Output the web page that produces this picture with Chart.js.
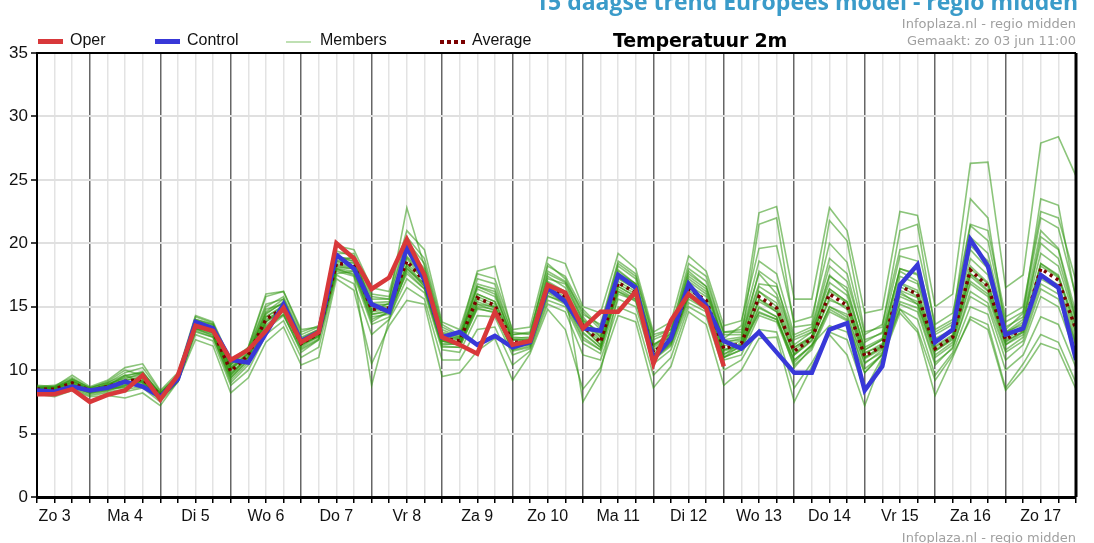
<!DOCTYPE html>
<html>
<head>
<meta charset="utf-8">
<script src="https://cdn.jsdelivr.net/npm/chart.js@4.4.0/dist/chart.umd.min.js"></script>
<style>
  body { margin: 0; background: #fff; font-family: "Liberation Sans", Arial, sans-serif; }
  #wrap { position: relative; width: 1094px; height: 543px; overflow: hidden; }
  #chart { position: absolute; left: 0; top: 0; }
  .txt { position: absolute; white-space: nowrap; }
  .head { right: 16px; top: -15px; font: bold 23px "Open Sans", sans-serif; color: #3a9bc9; }
  .info { right: 18px; font: 13px "DejaVu Sans", sans-serif; color: #a0a0a0; text-align: right; }
  .leg { font-size: 16px; color: #111; top: 31px; }
  .sw { position: absolute; height: 5px; top: 39px; width: 25px; }
  .title { left: 613px; top: 29px; font: bold 19px "DejaVu Sans", sans-serif; color: #000; letter-spacing: -0.2px; }
</style>
</head>
<body>
<div id="wrap">
  <canvas id="chart" width="1094" height="543"></canvas>
  <div class="txt head">15 daagse trend Europees model - regio midden</div>
  <div class="txt info" style="top:16px">Infoplaza.nl - regio midden</div>
  <div class="txt info" style="top:33px">Gemaakt: zo 03 jun 11:00</div>
  <div class="txt info" style="top:530px">Infoplaza.nl - regio midden</div>
  <div class="sw" style="left:38px;background:#d8383a"></div>
  <div class="txt leg" style="left:70px">Oper</div>
  <div class="sw" style="left:155px;background:#3838d8"></div>
  <div class="txt leg" style="left:187px">Control</div>
  <div class="sw" style="left:286px;height:2px;top:41px;background:#bfe0b3"></div>
  <div class="txt leg" style="left:320px">Members</div>
  <div class="sw" style="left:440px;height:4px;top:40px;background:repeating-linear-gradient(90deg,#7a0000 0 4px,transparent 4px 7px)"></div>
  <div class="txt leg" style="left:472px">Average</div>
  <div class="txt title">Temperatuur 2m</div>
</div>
<script>
// uren vanaf zo 3 jun 06:00, stap 6 uur
const hours = [0,6,12,18,24,30,36,42,48,54,
  60,66,72,78,84,90,96,102,108,114,
  120,126,132,138,144,150,156,162,168,174,
  180,186,192,198,204,210,216,222,228,234,
  240,246,252,258,264,270,276,282,288,294,
  300,306,312,318,324,330,336,342,348,354];

const dayLabels = ["Zo 3","Ma 4","Di 5","Wo 6","Do 7","Vr 8","Za 9","Zo 10",
  "Ma 11","Di 12","Wo 13","Do 14","Vr 15","Za 16","Zo 17"];

const oper = [8.1,8.1,8.5,7.5,8.05,8.4,9.6,7.7,9.6,13.5,
  13.1,10.8,11.6,13.1,14.9,12.2,13.0,20.0,18.8,16.4,
  17.3,20.3,17.5,12.6,12.0,11.3,14.6,12.0,12.3,16.7,
  16.1,13.3,14.6,14.6,16.2,10.5,13.9,16.0,14.9,10.3];

const control = [8.4,8.3,8.7,8.4,8.6,9.1,8.7,7.9,9.3,13.8,
  13.3,10.8,10.6,12.9,15.2,12.3,13.0,19.1,18.0,15.2,
  14.6,19.7,17.1,12.6,13.0,12.0,12.7,11.8,12.2,16.5,
  15.4,13.3,13.1,17.5,16.5,10.9,12.5,16.8,15.1,12.3,
  11.7,13.0,11.4,9.8,9.8,13.2,13.7,8.4,10.3,16.7,
  18.3,12.2,13.2,20.3,18.2,12.8,13.3,17.5,16.5,10.8];

const average = [8.5,8.5,9.0,8.4,8.7,9.1,9.3,8.0,9.3,13.5,
  13.1,9.9,11.2,14.0,14.9,12.1,12.9,18.4,18.3,14.8,
  14.9,18.6,17.0,12.5,12.3,15.7,15.1,12.2,12.2,16.6,
  15.8,13.5,12.2,16.9,16.1,11.4,12.5,16.4,15.5,11.7,
  12.1,15.8,14.9,11.5,12.5,16.0,15.1,11.1,11.9,16.6,
  16.0,11.7,12.6,17.9,16.6,12.4,13.3,18.0,17.1,13.2];

const member01 = [8.6,8.6,9.2,8.5,8.9,9.4,9.6,8.2,9.5,13.8,
  13.4,10.2,11.5,14.5,15.3,12.4,13.1,18.9,18.8,15.3,
  15.4,19.5,17.8,13.0,12.6,16.4,15.8,12.6,12.5,17.4,
  16.5,14.0,12.8,17.6,16.8,11.9,12.9,17.2,16.2,12.2,
  12.5,16.6,15.7,12.0,13.0,16.9,15.9,11.6,12.4,17.4,
  16.8,12.2,13.1,18.8,17.5,12.9,13.8,19.2,18.2,13.8];
const member02 = [8.3,8.2,8.6,8.1,8.3,8.5,8.7,7.7,9.2,13.0,
  12.6,9.2,10.6,13.2,14.3,11.6,12.4,17.8,17.4,13.6,
  14.2,17.2,16.1,11.6,11.4,14.3,14.2,11.2,11.7,15.5,
  15.0,12.1,11.3,15.6,15.0,10.5,11.6,15.3,14.6,10.8,
  11.2,14.3,13.8,10.4,11.6,14.6,13.9,10.1,11.2,15.4,
  14.9,10.6,11.7,16.2,15.3,11.4,12.3,16.4,15.6,11.9];
const member03 = [8.8,8.7,9.6,8.7,9.2,10.2,10.5,8.4,9.8,14.3,
  13.8,10.8,11.8,15.8,16.2,13.0,13.5,19.8,19.5,16.5,
  16.2,21.0,19.5,13.8,13.2,17.6,17.2,13.2,13.4,18.9,
  18.4,15.0,14.5,19.2,18.0,13.0,13.8,19.0,17.8,13.5,
  13.9,19.6,19.8,13.8,14.2,20.0,18.5,12.8,13.6,19.5,
  19.8,13.6,14.5,21.5,21.0,14.2,15.0,22.5,22.0,17.0];
const member04 = [8.1,7.9,8.4,7.9,8.0,7.8,8.2,7.2,9.1,12.4,
  11.9,8.2,9.4,12.2,13.4,10.4,11.0,17.2,16.3,10.5,
  13.5,15.5,15.2,9.5,9.8,11.5,12.5,9.2,11.3,14.8,
  13.2,8.5,10.2,14.3,13.8,8.6,10.3,14.6,13.6,8.8,
  10.0,12.5,12.6,7.5,10.3,12.8,11.2,7.2,10.9,14.5,
  13.0,8.0,11.0,14.2,13.6,8.6,10.5,12.8,12.2,9.0];
const member05 = [8.4,8.5,9.0,8.3,8.6,9.0,9.3,8.0,9.3,13.6,
  13.0,9.6,11.0,14.2,15.0,12.0,12.8,18.0,17.5,8.8,
  14.0,18.0,16.8,12.3,12.0,15.2,15.0,12.0,12.3,16.8,
  16.2,7.5,9.9,16.0,15.5,11.0,12.2,16.0,15.0,11.0,
  12.0,15.6,14.6,11.2,12.4,15.5,15.0,11.0,11.8,16.2,
  15.2,11.5,12.5,17.4,16.2,12.0,13.0,17.6,16.5,12.5];
const member06 = [8.5,8.6,9.1,8.5,8.8,9.5,9.9,8.1,9.4,13.7,
  13.2,10.0,11.4,14.8,15.2,12.3,13.0,18.6,18.4,15.0,
  15.2,19.0,17.5,12.7,12.4,16.0,15.4,12.4,12.4,17.0,
  16.2,13.8,12.6,17.3,16.4,11.8,12.7,17.0,16.0,12.5,
  13.5,22.4,22.9,15.6,15.6,22.8,21.0,14.5,14.8,22.5,
  22.2,15.0,16.0,26.3,26.4,16.5,17.5,27.9,28.4,25.3];
const member07 = [8.6,8.5,8.9,8.4,8.8,9.6,9.0,7.9,9.6,13.2,
  13.3,10.4,11.6,13.6,14.6,12.1,12.6,18.2,18.0,14.4,
  14.6,18.4,17.2,12.3,12.0,15.8,15.2,12.0,12.0,16.4,
  15.6,13.4,12.0,16.8,16.0,11.2,12.4,16.3,15.4,11.6,
  12.0,15.6,14.8,11.3,12.6,16.2,15.3,11.0,11.9,16.8,
  16.1,11.8,12.7,18.0,16.8,12.4,13.3,18.2,17.3,13.4];
const member08 = [8.5,8.4,8.8,8.3,8.5,8.9,9.1,8.0,9.2,13.4,
  12.9,9.8,11.0,14.0,14.8,12.0,12.9,18.4,18.2,14.8,
  14.9,18.8,17.0,12.5,12.2,15.6,15.0,12.1,12.2,16.5,
  15.8,13.3,12.3,17.0,16.2,11.4,12.5,16.6,15.4,11.6,
  12.0,14.5,14.0,10.6,12.0,13.5,13.0,9.8,11.3,14.8,
  13.2,9.2,11.2,14.0,13.2,8.4,10.0,12.1,11.6,8.5];
const member09 = [8.7,8.8,9.4,8.6,9.0,9.8,10.2,8.3,9.6,14.0,
  13.6,10.4,11.8,16.0,16.2,13.2,13.4,19.2,19.2,16.0,
  15.8,20.5,18.8,13.6,12.8,17.8,18.2,13.0,12.8,18.4,
  17.2,14.4,13.6,18.6,17.6,12.8,13.2,18.0,17.0,13.0,
  13.0,17.6,16.0,12.4,13.0,17.5,16.2,11.8,12.5,18.0,
  17.5,12.5,13.2,19.5,18.0,13.0,14.0,20.0,18.8,14.0];
const member10 = [8.4,8.3,8.7,8.2,8.4,8.8,9.0,7.8,9.1,13.2,
  12.8,9.4,10.8,13.5,14.4,11.4,12.4,17.6,17.8,14.2,
  14.4,17.8,16.4,11.8,11.8,14.8,14.6,11.5,11.8,15.8,
  15.4,12.6,11.6,16.2,15.6,11.0,12.2,16.0,15.2,11.3,
  11.8,15.0,14.2,10.8,12.0,15.0,14.2,10.5,11.6,16.0,
  15.4,11.2,12.2,17.0,16.0,12.0,12.8,17.2,16.4,12.0];
const member11 = [8.6,8.7,9.3,8.6,9.1,10.0,9.6,8.2,9.5,14.2,
  13.7,10.6,11.7,15.2,15.6,12.6,13.2,19.0,18.6,15.6,
  15.6,22.8,18.2,13.2,12.6,16.8,16.4,12.8,13.0,17.8,
  17.0,14.6,13.2,18.2,17.2,12.4,13.0,17.6,16.6,12.8,
  12.8,16.8,16.6,12.6,13.2,18.2,17.0,12.4,12.9,17.8,
  17.0,12.8,13.6,20.5,19.2,13.4,14.2,21.0,19.6,14.5];
const member12 = [8.3,8.3,8.8,8.2,8.6,8.6,9.2,7.7,9.2,13.3,
  12.7,9.0,10.4,13.8,14.8,11.8,12.7,18.0,17.8,13.8,
  14.6,18.2,16.6,12.0,12.1,15.0,14.8,11.6,12.2,16.2,
  15.5,13.0,11.8,16.6,15.8,10.8,12.1,15.8,14.8,11.2,
  12.2,16.2,15.0,11.6,12.6,16.4,15.4,11.4,11.9,16.6,
  15.8,11.6,12.6,17.6,16.6,12.3,13.0,18.4,17.4,13.0];
const member13 = [8.5,8.7,9.2,8.4,8.9,9.3,9.8,8.1,9.5,13.9,
  13.5,10.2,11.3,14.4,15.4,12.5,13.2,18.6,18.9,15.2,
  15.2,19.6,18.0,12.9,12.5,16.6,16.0,12.5,12.6,17.2,
  16.8,13.9,13.0,17.8,16.8,12.0,12.9,17.4,16.4,12.4,
  12.6,21.5,22.0,13.4,13.6,21.8,20.2,13.0,13.4,21.0,
  21.5,13.2,14.0,23.5,22.0,13.2,14.5,23.5,23.0,15.5];
const member14 = [8.2,8.1,8.5,8.0,8.2,8.3,8.6,7.5,9.1,12.8,
  12.3,8.8,10.0,12.8,13.9,11.0,11.8,17.5,16.8,12.8,
  14.0,16.5,15.6,10.8,10.8,13.2,13.4,10.4,11.5,15.2,
  14.6,11.2,10.8,15.0,14.4,9.6,11.0,15.0,14.2,10.0,
  10.8,13.2,13.0,8.6,10.6,13.0,12.4,8.4,11.0,14.8,
  14.0,9.6,11.4,15.0,14.4,10.0,11.2,14.2,13.6,10.2];
const member15 = [8.6,8.5,9.1,8.5,8.8,9.2,9.5,8.1,9.4,13.6,
  13.2,10.1,11.3,14.2,15.1,12.3,13.0,18.5,18.5,15.0,
  15.0,18.9,17.3,12.7,12.5,16.0,15.4,12.4,12.3,16.9,
  16.0,13.7,12.4,17.2,16.4,11.6,12.7,16.7,15.8,11.9,
  12.3,16.2,15.3,11.8,12.7,16.4,15.4,11.3,12.1,16.9,
  16.3,11.9,12.8,18.2,16.9,12.6,13.5,18.4,17.5,13.5];
const member16 = [8.4,8.4,8.9,8.3,8.6,9.0,9.1,7.9,9.2,13.4,
  13.0,9.7,11.1,13.8,14.7,11.9,12.8,18.3,18.1,14.6,
  14.8,18.3,16.8,12.3,12.1,15.4,14.9,12.0,12.1,16.3,
  15.6,13.3,12.0,16.6,15.8,11.2,12.3,16.1,15.2,11.5,
  11.9,15.4,14.6,11.2,12.3,15.7,14.8,10.9,11.7,16.3,
  15.7,11.5,12.4,17.6,16.3,12.2,13.1,17.6,16.7,12.9];
const member17 = [8.5,8.6,9.0,8.4,8.7,9.2,9.4,8.0,9.4,13.5,
  13.1,10.0,11.2,14.6,15.6,12.4,13.1,18.8,18.6,14.6,
  15.3,19.3,17.6,12.5,12.4,16.6,16.2,12.4,12.4,17.6,
  16.9,14.2,12.6,17.9,16.8,12.0,12.8,17.8,16.6,12.2,
  12.4,17.8,16.8,11.8,12.6,17.4,16.5,11.6,12.4,18.0,
  17.6,12.4,13.0,19.8,18.6,13.0,13.6,20.5,19.5,14.0];
const member18 = [8.3,8.2,8.7,8.2,8.4,8.7,8.9,7.8,9.1,13.1,
  12.6,9.4,10.8,13.4,14.4,11.7,12.5,17.9,17.6,14.0,
  14.6,17.6,16.4,11.9,11.8,14.9,14.5,11.6,11.9,15.9,
  15.2,12.4,11.6,16.2,15.4,10.8,11.9,15.6,14.8,11.0,
  11.6,14.6,14.0,10.8,11.9,15.0,14.4,10.6,11.4,15.8,
  15.2,11.0,12.0,16.8,15.8,11.6,12.6,16.8,16.0,12.2];
const member19 = [8.7,8.6,9.3,8.6,9.0,9.6,9.8,8.2,9.6,14.0,
  13.6,10.5,11.6,15.0,15.8,12.8,13.4,19.4,19.0,15.8,
  15.6,20.2,18.4,13.4,12.7,17.2,16.8,12.8,12.9,18.2,
  17.4,14.8,13.4,18.4,17.4,12.6,13.2,18.4,17.4,13.0,
  13.2,18.6,17.6,12.8,13.4,18.8,17.6,12.2,13.0,19.0,
  18.6,13.0,13.8,21.4,20.2,13.8,14.6,22.0,21.2,15.8];
const member20 = [8.4,8.4,8.8,8.3,8.5,8.8,9.2,7.9,9.3,13.3,
  12.9,9.6,11.0,13.9,14.9,12.0,12.7,18.1,18.0,14.4,
  14.7,18.0,16.6,12.1,12.0,15.2,14.7,11.8,12.0,16.1,
  15.3,12.9,11.8,16.4,15.6,11.0,12.0,15.8,15.0,11.0,
  11.6,14.9,14.2,10.2,11.8,14.8,14.0,9.8,11.2,15.2,
  14.6,10.4,11.8,15.8,15.0,10.8,12.0,15.8,15.0,11.2];

const members = [member01, member02, member03, member04, member05, member06, member07,
  member08, member09, member10, member11, member12, member13, member14, member15,
  member16, member17, member18, member19, member20];

function toPoints(values) {
  return values.map((v, i) => ({ x: hours[i], y: v }));
}

const datasets = [
  { label: "Oper", data: toPoints(oper), borderColor: "#d8383a", borderWidth: 4.5 },
  { label: "Control", data: toPoints(control), borderColor: "#3838d8", borderWidth: 4.5 },
  { label: "Average", data: toPoints(average), borderColor: "#7a0000", borderWidth: 3.5, borderDash: [3, 4] }
];
members.forEach((m, i) => {
  datasets.push({ label: "Member " + (i + 1), data: toPoints(m), borderColor: "rgba(45,150,15,0.55)", borderWidth: 1.6 });
});

// rand boven en rechts
const frame = {
  id: "frame",
  afterDraw(chart) {
    const { ctx, chartArea: a } = chart;
    ctx.save();
    ctx.strokeStyle = "#000";
    ctx.lineWidth = 2;
    ctx.beginPath();
    ctx.moveTo(a.left, a.top);
    ctx.lineTo(a.right, a.top);
    ctx.stroke();
    ctx.lineWidth = 3;
    ctx.beginPath();
    ctx.moveTo(a.right, a.top);
    ctx.lineTo(a.right, a.bottom);
    ctx.stroke();
    ctx.restore();
  }
};

new Chart(document.getElementById("chart"), {
  type: "line",
  data: { datasets },
  plugins: [frame],
  options: {
    responsive: false,
    animation: false,
    layout: { padding: { top: 53, right: 18, left: 0, bottom: 0 } },
    elements: { point: { radius: 0 }, line: { tension: 0 } },
    plugins: { legend: { display: false }, tooltip: { enabled: false } },
    scales: {
      x: {
        type: "linear",
        min: 0,
        max: 354,
        afterFit(s) { s.height = 46; },
        border: { color: "#000", width: 3 },
        grid: {
          color: (c) => ((c.tick.value - 18) % 24 === 0 ? "#666" : "#e3e3e3"),
          lineWidth: 1.5,
          tickLength: 6,
          tickColor: "#000",
          tickWidth: 1.5
        },
        ticks: {
          stepSize: 6,
          autoSkip: false,
          maxRotation: 0,
          padding: 4,
          color: "#111",
          font: { family: "Liberation Sans", size: 16 },
          callback: (v) => ((v - 6) % 24 === 0 ? dayLabels[(v - 6) / 24] : "")
        }
      },
      y: {
        min: 0,
        max: 35,
        afterFit(s) { s.width = 37; },
        border: { color: "#000", width: 2 },
        grid: {
          color: "#e0e0e0",
          lineWidth: 2,
          tickLength: 6,
          tickColor: "#000",
          tickWidth: 1.5
        },
        ticks: {
          stepSize: 5,
          padding: 3,
          color: "#111",
          font: { family: "Liberation Sans", size: 17 }
        }
      }
    }
  }
});
</script>
</body>
</html>
